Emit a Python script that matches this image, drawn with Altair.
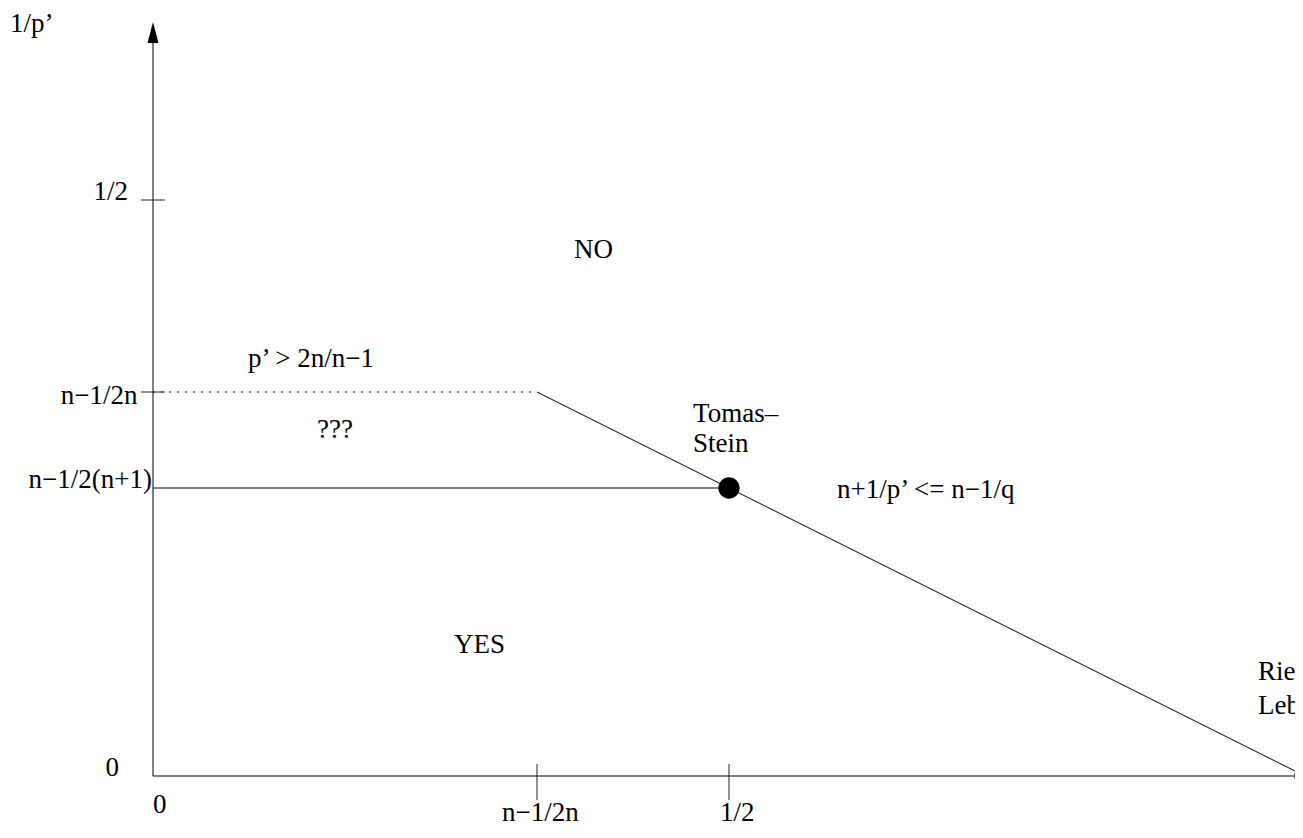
import altair as alt
import pandas as pd

# Diagram drawn for n = 3 (x: 1/q, y: 1/p')
# solid segments: y-axis, x-axis, horizontal to Tomas-Stein, diagonal boundary
seg_x1 = [0.0, 0.0, 0.0, 1/3]
seg_y1 = [0.0, 0.0, 0.25, 1/3]
seg_x2 = [0.0, 1.0, 0.5, 1.0]
seg_y2 = [0.64, 0.0, 0.25, 0.0]

# dotted segment p' > 2n/(n-1)
dot_x = [0.0, 1/3]
dot_y = [1/3, 1/3]

# tick values
x_tick_vals = [1/3, 1/2]
y_tick_vals = [1/2, 1/3]

# filled points: Tomas-Stein, Riemann-Lebesgue
pt_x = [0.5, 1.0]
pt_y = [0.25, 0.0]

# arrow head on y axis
arrow_x = [0.0]
arrow_y = [0.6454]

# labels
left_text = ["1/p’", "p’ > 2n/n−1", "Tomas–", "Stein", "n+1/p’ <= n−1/q",
             "Riemann–", "Lebesgue", "0", "n−1/2n", "1/2"]
left_x = [-0.1241, 0.0825, 0.4688, 0.4688, 0.5938, 0.9592, 0.9592, 0.0, 0.3030, 0.4922]
left_y = [0.6458, 0.355, 0.3073, 0.2813, 0.2413, 0.0833, 0.0538, -0.0321, -0.0390, -0.0390]

right_text = ["1/2", "n−1/2n", "n−1/2(n+1)", "0"]
right_x = [-0.0217, -0.0135, -0.0009, -0.0295]
right_y = [0.5, 0.3229, 0.25, 0.0]

center_text = ["NO", "YES", "???"]
center_x = [0.3824, 0.2834, 0.158]
center_y = [0.4497, 0.1068, 0.2934]

# ---- scales (1 data unit = 1152 px on both axes) ----
W, H = 1287, 820
PX = 1152.0
x0 = -145 / PX
x1 = x0 + W / PX
y1 = 768 / PX
y0 = y1 - H / PX
xs = alt.Scale(domain=[x0, x1], nice=False, zero=False)
ys = alt.Scale(domain=[y0, y1], nice=False, zero=False)

FONT = "Liberation Serif"
FS = 27

seg_df = pd.DataFrame({"x1": seg_x1, "y1": seg_y1, "x2": seg_x2, "y2": seg_y2})
segs = alt.Chart(seg_df).mark_rule(color="black", strokeWidth=1).encode(
    x=alt.X("x1:Q", scale=xs, axis=None),
    y=alt.Y("y1:Q", scale=ys, axis=None),
    x2="x2:Q", y2="y2:Q",
)

dot_df = pd.DataFrame({"x1": [dot_x[0]], "y1": [dot_y[0]], "x2": [dot_x[1]], "y2": [dot_y[1]]})
dotted = alt.Chart(dot_df).mark_rule(color="black", strokeWidth=1, strokeDash=[2, 6]).encode(
    x=alt.X("x1:Q", scale=xs, axis=None),
    y=alt.Y("y1:Q", scale=ys, axis=None),
    x2="x2:Q", y2="y2:Q",
)

# tick marks (lengths in data units)
t = 12 / PX
tick_rows = []
for v in y_tick_vals:
    tick_rows.append({"x1": -t, "y1": v, "x2": t, "y2": v})
for v in x_tick_vals:
    tick_rows.append({"x1": v, "y1": t, "x2": v, "y2": -2 * t})
ticks = alt.Chart(pd.DataFrame(tick_rows)).mark_rule(color="#222", strokeWidth=1).encode(
    x=alt.X("x1:Q", scale=xs, axis=None),
    y=alt.Y("y1:Q", scale=ys, axis=None),
    x2="x2:Q", y2="y2:Q",
)

pts = alt.Chart(pd.DataFrame({"x": pt_x, "y": pt_y})).mark_point(
    shape="circle", filled=True, color="black", opacity=1, size=452
).encode(
    x=alt.X("x:Q", scale=xs, axis=None),
    y=alt.Y("y:Q", scale=ys, axis=None),
)

arrow = alt.Chart(pd.DataFrame({"x": arrow_x, "y": arrow_y})).mark_point(
    shape="M0,-1L0.52,1L-0.52,1Z", filled=True, color="black", opacity=1, size=441
).encode(
    x=alt.X("x:Q", scale=xs, axis=None),
    y=alt.Y("y:Q", scale=ys, axis=None),
)

def text_layer(texts, xsv, ysv, align):
    df = pd.DataFrame({"t": texts, "x": xsv, "y": ysv})
    return alt.Chart(df).mark_text(
        align=align, baseline="alphabetic", font=FONT, fontSize=FS, color="black"
    ).encode(
        x=alt.X("x:Q", scale=xs, axis=None),
        y=alt.Y("y:Q", scale=ys, axis=None),
        text="t:N",
    )

chart = alt.layer(
    segs, dotted, ticks, pts, arrow,
    text_layer(left_text, left_x, left_y, "left"),
    text_layer(right_text, right_x, right_y, "right"),
    text_layer(center_text, center_x, center_y, "center"),
).properties(
    width=W, height=H, padding=0,
    autosize=alt.AutoSizeParams(type="none"),
).configure_view(stroke=None)

chart.save("out.html", embed_options={"renderer": "svg", "actions": False})
